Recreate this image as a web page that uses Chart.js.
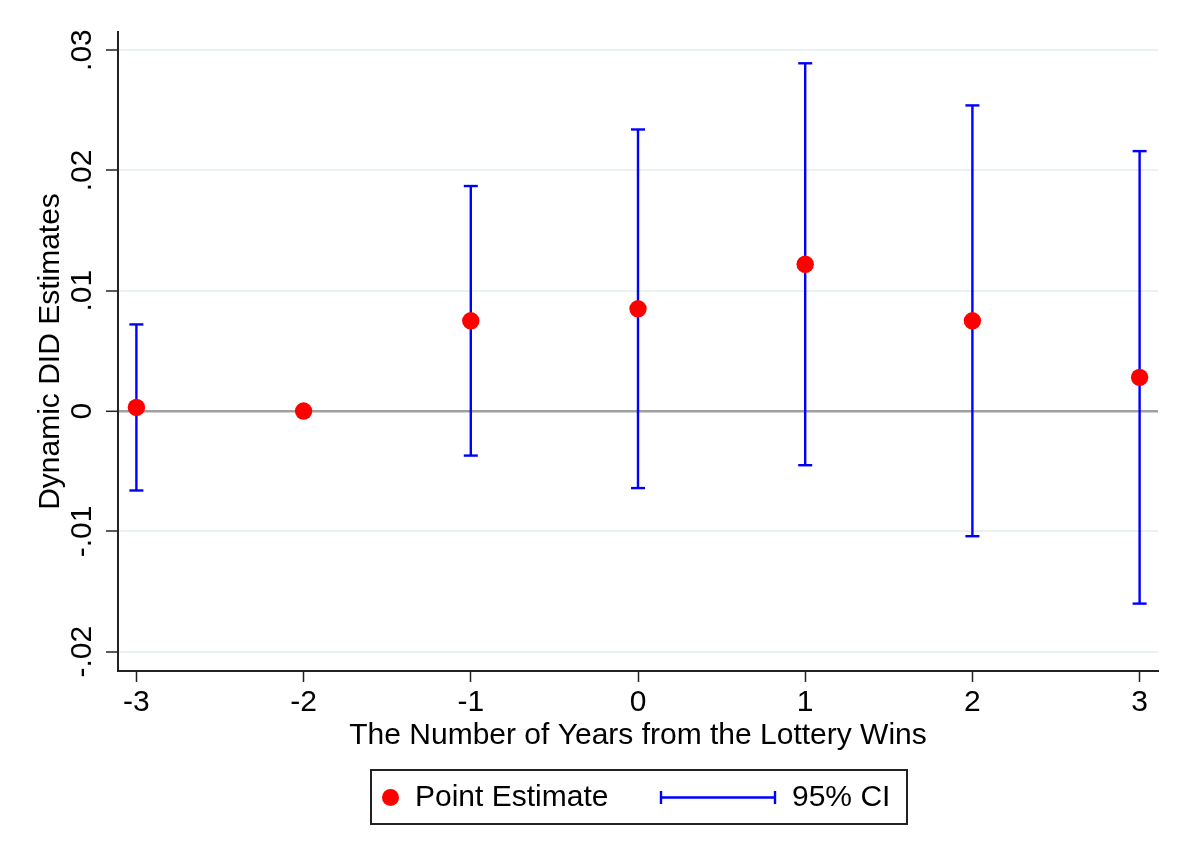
<!DOCTYPE html>
<html>
<head>
<meta charset="utf-8">
<script src="https://cdn.jsdelivr.net/npm/chart.js@4.4.1/dist/chart.umd.min.js"></script>
<style>
  body { margin: 0; background: #fff; }
</style>
</head>
<body>
<canvas id="didChart" width="1191" height="866"></canvas>
<script>
// values
const years = [-3, -2, -1, 0, 1, 2, 3];
const estimates = [0.0003, 0, 0.0075, 0.0085, 0.0122, 0.0075, 0.0028];
const ciLow = [-0.0066, null, -0.0037, -0.0064, -0.0045, -0.0104, -0.0160];
const ciHigh = [0.0072, null, 0.0187, 0.0234, 0.0289, 0.0254, 0.0216];
const xTicks = [-3, -2, -1, 0, 1, 2, 3];
const xTickLabels = ['-3', '-2', '-1', '0', '1', '2', '3'];
const yTicks = [-0.02, -0.01, 0, 0.01, 0.02, 0.03];
const yTickLabels = ['-.02', '-.01', '0', '.01', '.02', '.03'];

const FONT = '"Liberation Sans", Arial, Helvetica, sans-serif';
Chart.defaults.font.family = FONT;
Chart.defaults.font.size = 30;
Chart.defaults.color = '#000';

// point estimates
const pointData = years.map((x, i) => ({ x: x, y: estimates[i] }));

// CI segments, broken by gaps
const ciData = [];
years.forEach((x, i) => {
    if (ciLow[i] === null) return;
    ciData.push({ x: x, y: ciLow[i] });
    ciData.push({ x: x, y: ciHigh[i] });
    ciData.push({ x: x, y: null });
});

// legend in a box, like the Stata one
const boxLegend = {
    id: 'boxLegend',
    afterDraw(chart) {
        const ctx = chart.ctx;
        const ds = chart.data.datasets;
        const cy = 797.5;
        ctx.save();
        ctx.strokeStyle = '#222';
        ctx.lineWidth = 2;
        ctx.strokeRect(371, 770, 536, 54);

        ctx.fillStyle = ds[0].backgroundColor;
        ctx.beginPath();
        ctx.arc(390.5, cy, 8.5, 0, Math.PI * 2);
        ctx.fill();

        ctx.fillStyle = '#000';
        ctx.font = '30px ' + FONT;
        ctx.textBaseline = 'middle';
        ctx.fillText(ds[0].label, 415, cy);

        ctx.strokeStyle = ds[1].borderColor;
        ctx.lineWidth = 2.4;
        ctx.beginPath();
        ctx.moveTo(661, cy); ctx.lineTo(775, cy);
        ctx.moveTo(661, cy - 6.5); ctx.lineTo(661, cy + 6.5);
        ctx.moveTo(775, cy - 6.5); ctx.lineTo(775, cy + 6.5);
        ctx.stroke();
        ctx.fillText(ds[1].label, 792, cy);
        ctx.restore();
    }
};

const ctx = document.getElementById('didChart').getContext('2d');
const didChart = new Chart(ctx, {
    type: 'scatter',
    data: {
        datasets: [
            {
                label: 'Point Estimate',
                data: pointData,
                backgroundColor: '#ff0000',
                borderWidth: 0,
                pointRadius: 8.7,
                pointHoverRadius: 8.7
            },
            {
                label: '95% CI',
                data: ciData,
                showLine: true,
                spanGaps: false,
                borderColor: '#0000ff',
                borderWidth: 2.4,
                pointStyle: 'line',
                pointRadius: 7,
                pointHoverRadius: 7,
                pointBorderColor: '#0000ff',
                pointBorderWidth: 2.4
            }
        ]
    },
    options: {
        responsive: false,
        animation: false,
        devicePixelRatio: 1,
        layout: { padding: { top: 32, right: 33, bottom: 0, left: 0 } },
        plugins: {
            legend: { display: false },
            tooltip: { enabled: false }
        },
        scales: {
            x: {
                type: 'linear',
                min: -3.11,
                max: 3.11,
                afterBuildTicks: (scale) => { scale.ticks = xTicks.map(v => ({ value: v })); },
                afterFit: (scale) => { scale.height = 195; },
                ticks: {
                    padding: 3,
                    callback: (v) => xTickLabels[xTicks.indexOf(v)]
                },
                grid: {
                    drawOnChartArea: false,
                    drawTicks: true,
                    tickLength: 11,
                    tickColor: '#222',
                    tickWidth: 1.5
                },
                border: { display: true, color: '#222', width: 2 },
                title: {
                    display: true,
                    text: 'The Number of Years from the Lottery Wins',
                    padding: { top: 0, bottom: 112 }
                }
            },
            y: {
                type: 'linear',
                min: -0.0216,
                max: 0.0315,
                afterBuildTicks: (scale) => { scale.ticks = yTicks.map(v => ({ value: v })); },
                afterFit: (scale) => { scale.width = 118; },
                ticks: {
                    minRotation: 90,
                    maxRotation: 90,
                    crossAlign: 'center',
                    padding: -3,
                    callback: (v) => yTickLabels[yTicks.indexOf(v)]
                },
                grid: {
                    color: (c) => c.tick && c.tick.value === 0 ? '#a0a0a0' : '#e9f1f3',
                    lineWidth: (c) => c.tick && c.tick.value === 0 ? 2.6 : 2,
                    drawTicks: true,
                    tickLength: 12,
                    tickColor: '#222',
                    tickWidth: 1.5
                },
                border: { display: true, color: '#222', width: 2 },
                title: {
                    display: true,
                    text: 'Dynamic DID Estimates',
                    padding: { top: 33, bottom: 0 }
                }
            }
        }
    },
    plugins: [boxLegend]
});
</script>
</body>
</html>
